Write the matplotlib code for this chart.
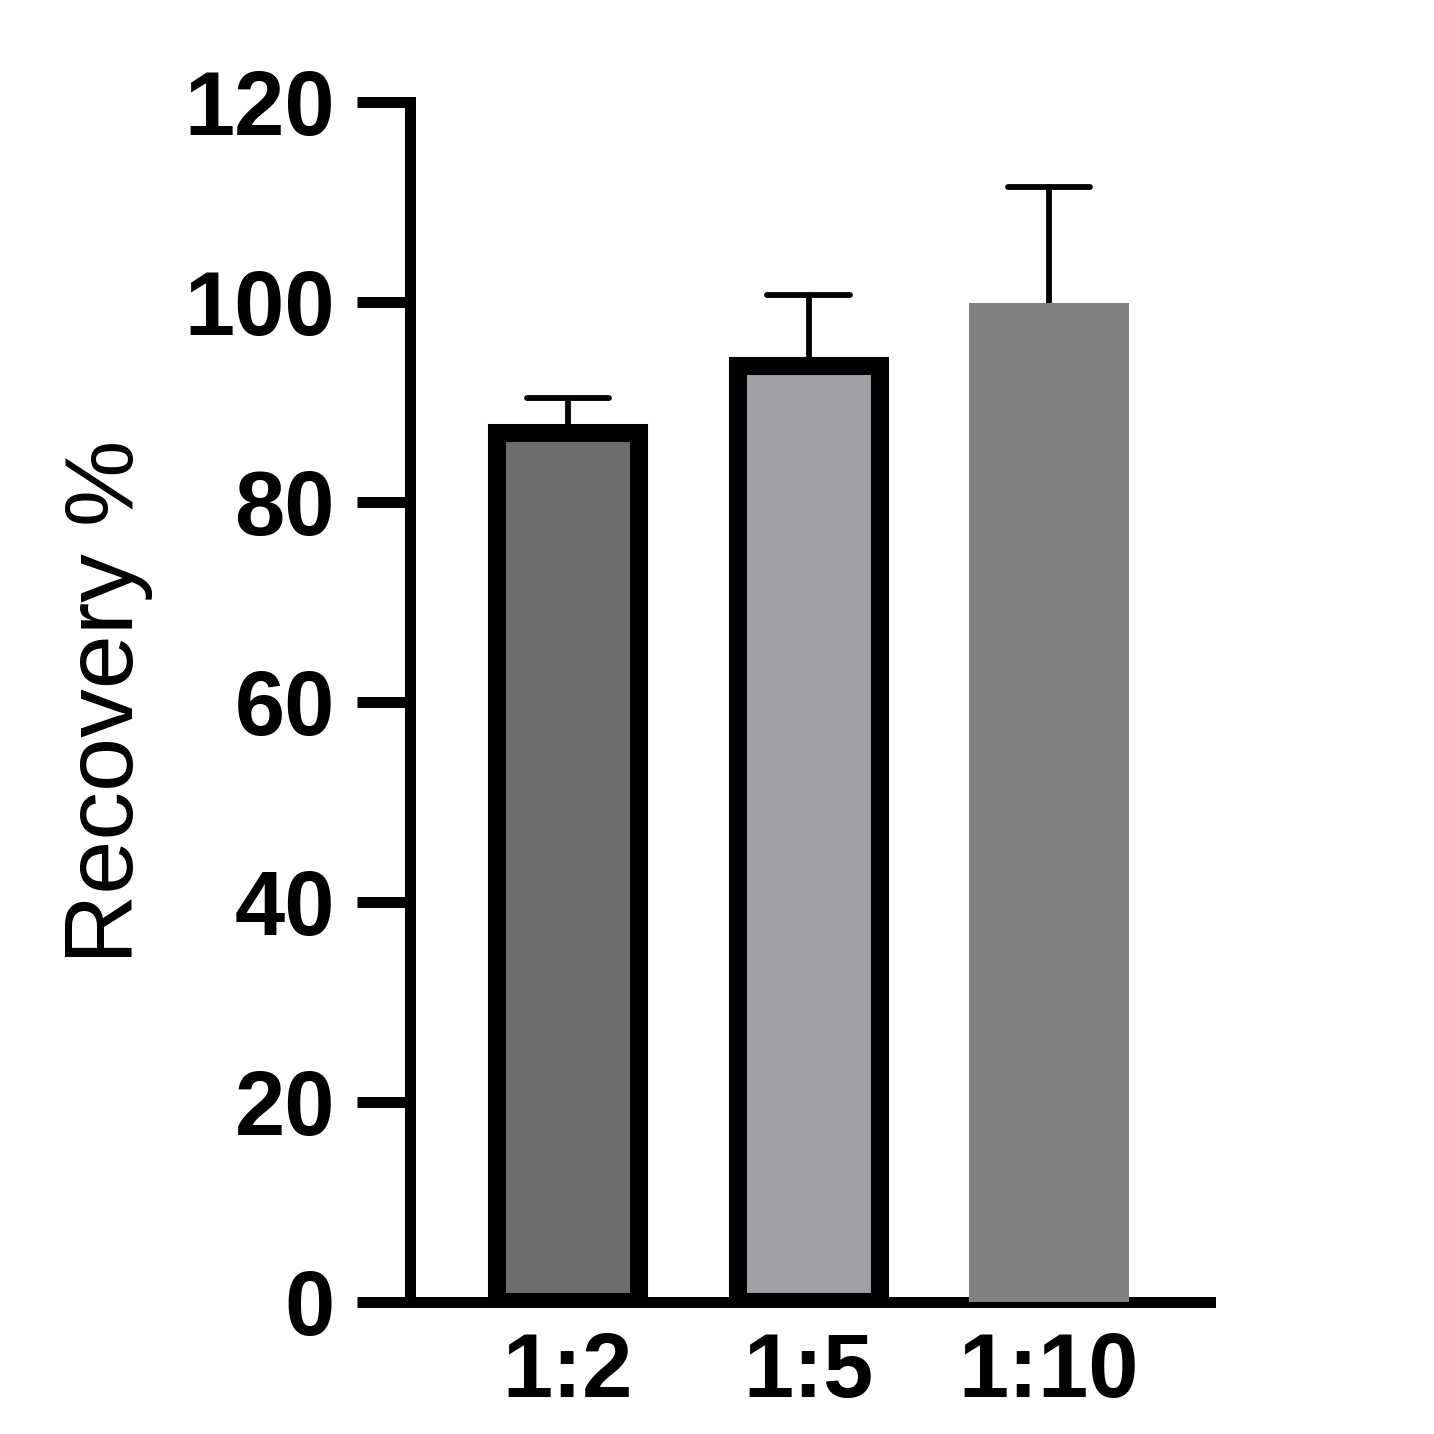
import matplotlib
matplotlib.use("Agg")
import matplotlib.pyplot as plt
import numpy as np

categories = ["1:2", "1:5", "1:10"]
values = [86.9, 93.6, 99.9]
errors_upper = [3.5, 7.1, 11.6]
y_ticks = [0, 20, 40, 60, 80, 100, 120]

fill_colors = ["#6d6d6d", "#a0a0a4", "#808080"]
edge_widths = [13, 13, 0]
bar_widths = [0.59, 0.59, 0.665]
cap_half = 0.172

plt.rcParams['font.family'] = ['Liberation Sans', 'DejaVu Sans']

fig = plt.figure(figsize=(14.34, 14.34), dpi=100)
ax = fig.add_axes([410/1434, (1434-1302)/1434, (1210-410)/1434, 1200/1434])

x = np.arange(len(categories))
vals = np.array(values)
tops = vals + np.array(errors_upper)

for i in x:
    ax.bar(i, values[i], width=bar_widths[i], color=fill_colors[i],
           edgecolor="black", linewidth=edge_widths[i], zorder=3)

ax.vlines(x, vals, tops, colors="black", linewidth=4.2, zorder=2,
          capstyle="round")
ax.hlines(tops, x - cap_half, x + cap_half, colors="black", linewidth=4.2,
          zorder=2, capstyle="round")

ax.set_xlim(-0.657, 2.669)
ax.set_ylim(0, 120)
ax.set_yticks(y_ticks)
ax.set_yticklabels([str(t) for t in y_ticks])
ax.set_xticks(x)
ax.set_xticklabels(categories)

for s in ["top", "right"]:
    ax.spines[s].set_visible(False)
for s in ["left", "bottom"]:
    ax.spines[s].set_linewidth(7.9)
    ax.spines[s].set_capstyle("projecting")

ax.tick_params(axis="y", length=38, width=7.9, pad=16, labelsize=65)
ax.tick_params(axis="x", length=0, pad=21, labelsize=65)
for lab in ax.get_yticklabels() + ax.get_xticklabels():
    lab.set_fontweight("bold")

ax.set_ylabel("Recovery %", fontsize=70)
ax.yaxis.set_label_coords(-257/800, 0.5)

fig.savefig("out.png", dpi=100, facecolor="white")
